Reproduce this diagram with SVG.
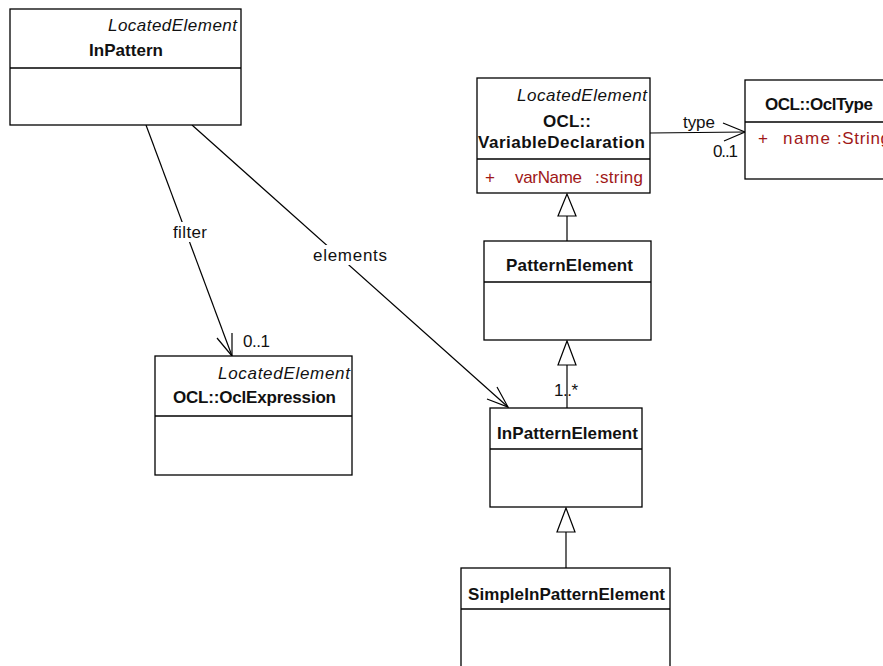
<svg xmlns="http://www.w3.org/2000/svg" width="883" height="666" viewBox="0 0 883 666">
  <style>
    .box { fill: #ffffff; stroke: #000000; stroke-width: 1.3; }
    .div { stroke: #000000; stroke-width: 1.3; fill: none; }
    .line { stroke: #000000; stroke-width: 1.2; fill: none; }
    .tri { fill: #ffffff; stroke: #000000; stroke-width: 1.2; }
    text { font-family: "Liberation Sans", Arial, sans-serif; font-size: 17px; fill: #111111; }
    .st { font-style: italic; }
    .nm { font-weight: bold; }
    .attr { fill: #a01818; }
    .lbl-bg { fill: #ffffff; }
  </style>

  <!-- associations and generalizations -->
  <g id="connectors">
    <!-- InPattern -> OclExpression (filter) -->
    <line class="line" x1="146" y1="125" x2="232" y2="356"/>
    <polyline class="line" points="217,338 232,356 232,333"/>
    <!-- InPattern -> InPatternElement (elements) -->
    <line class="line" x1="192" y1="125" x2="508" y2="407"/>
    <polyline class="line" points="487,399 508,407 497,387"/>
    <!-- VariableDeclaration -> OclType (type) -->
    <line class="line" x1="650" y1="133" x2="745" y2="132"/>
    <polyline class="line" points="723,123 745,132 724,141"/>
    <!-- PatternElement generalizes to VariableDeclaration -->
    <line class="line" x1="567" y1="241" x2="567" y2="216"/>
    <polygon class="tri" points="567,194 558,216 576,216"/>
    <!-- InPatternElement generalizes to PatternElement -->
    <line class="line" x1="567" y1="408" x2="567" y2="365"/>
    <polygon class="tri" points="567,341 558,365 576,365"/>
    <!-- SimpleInPatternElement generalizes to InPatternElement -->
    <line class="line" x1="566" y1="568" x2="566" y2="532"/>
    <polygon class="tri" points="566,508 557,532 575,532"/>

    <!-- role names and multiplicities -->
    <rect class="lbl-bg" x="173" y="222" width="34" height="20"/>
    <text x="173" y="238" textLength="34">filter</text>
    <text x="243" y="347" textLength="27">0..1</text>
    <rect class="lbl-bg" x="313" y="245" width="74" height="20"/>
    <text x="313" y="261" textLength="74">elements</text>
    <text x="683" y="128" textLength="32">type</text>
    <text x="713" y="157" textLength="25">0..1</text>
    <text x="554" y="396" textLength="24">1..*</text>
  </g>

  <g id="InPattern">
    <rect class="box" x="10" y="9" width="231" height="116"/>
    <line class="div" x1="10" y1="68" x2="241" y2="68"/>
    <text class="st" x="108" y="31" textLength="129">LocatedElement</text>
    <text class="nm" x="89" y="56" textLength="74">InPattern</text>
  </g>

  <g id="VariableDeclaration">
    <rect class="box" x="477" y="78" width="173" height="115"/>
    <line class="div" x1="477" y1="159" x2="650" y2="159"/>
    <text class="st" x="517" y="101" textLength="130">LocatedElement</text>
    <text class="nm" x="543" y="127" textLength="48">OCL::</text>
    <text class="nm" x="478" y="148" textLength="167">VariableDeclaration</text>
    <text class="attr" x="485" y="183">+</text>
    <text class="attr" x="515" y="183" textLength="67">varName</text>
    <text class="attr" x="595" y="183" textLength="48">:string</text>
  </g>

  <g id="OclType">
    <rect class="box" x="745" y="80" width="150" height="99"/>
    <line class="div" x1="745" y1="122" x2="895" y2="122"/>
    <text class="nm" x="765" y="110" textLength="108">OCL::OclType</text>
    <text class="attr" x="758" y="144">+</text>
    <text class="attr" x="783" y="144" textLength="47">name</text>
    <text class="attr" x="837" y="144" textLength="53">:String</text>
  </g>

  <g id="OclExpression">
    <rect class="box" x="155" y="356" width="197" height="119"/>
    <line class="div" x1="155" y1="416" x2="352" y2="416"/>
    <text class="st" x="218" y="379" textLength="132">LocatedElement</text>
    <text class="nm" x="173" y="403" textLength="163">OCL::OclExpression</text>
  </g>

  <g id="PatternElement">
    <rect class="box" x="484" y="241" width="167" height="99"/>
    <line class="div" x1="484" y1="282" x2="651" y2="282"/>
    <text class="nm" x="506" y="271" textLength="127">PatternElement</text>
  </g>

  <g id="InPatternElement">
    <rect class="box" x="490" y="408" width="152" height="99"/>
    <line class="div" x1="490" y1="449" x2="642" y2="449"/>
    <text class="nm" x="497" y="439" textLength="141">InPatternElement</text>
  </g>

  <g id="SimpleInPatternElement">
    <rect class="box" x="461" y="568" width="209" height="130"/>
    <line class="div" x1="461" y1="609" x2="670" y2="609"/>
    <text class="nm" x="468" y="600" textLength="197">SimpleInPatternElement</text>
  </g>
</svg>
